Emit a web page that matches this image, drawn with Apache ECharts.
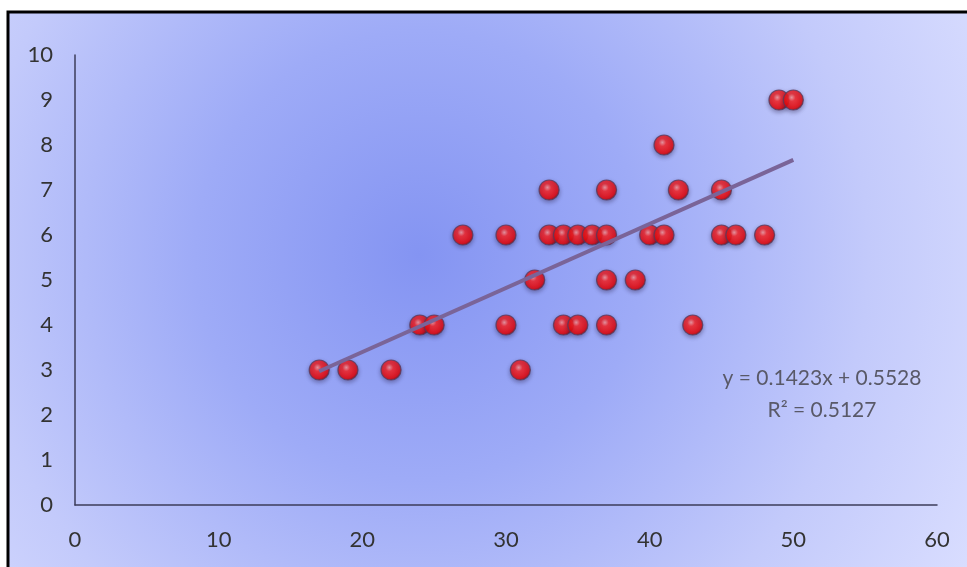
<!DOCTYPE html>
<html>
<head>
<meta charset="utf-8">
<script src="https://cdn.jsdelivr.net/npm/echarts@6/dist/echarts.min.js"></script>
<style>
html,body{margin:0;padding:0;background:#fff;}
#c{width:967px;height:567px;}
</style>
</head>
<body>
<div id="c"></div>
<script>
// Data (x, y)
const xValues = [17,19,22,31, 24,25,30,34,35,37,43, 32,37,39, 27,30,33,34,35,36,37,40,41,45,46,48, 33,37,42,45, 41, 49,50];
const yValues = [3,3,3,3, 4,4,4,4,4,4,4, 5,5,5, 6,6,6,6,6,6,6,6,6,6,6,6, 7,7,7,7, 8, 9,9];
const trendSlope = 0.1423;
const trendIntercept = 0.5528;
const rSquared = '0.5127';
const xTicks = [0,10,20,30,40,50,60];
const yTicks = [0,1,2,3,4,5,6,7,8,9,10];

const points = xValues.map((x, i) => [x, yValues[i]]);
const xMinData = Math.min(...xValues), xMaxData = Math.max(...xValues);
const trend = [[xMinData, trendSlope * xMinData + trendIntercept], [xMaxData, trendSlope * xMaxData + trendIntercept]];

const chart = echarts.init(document.getElementById('c'), null, {renderer: 'canvas'});
const font = 'Lato, "Open Sans", sans-serif';
const bgFill = {type: 'radial', x: 0.42, y: 0.42, r: 1.1, colorStops: [
  {offset: 0, color: '#8494f2'},
  {offset: 0.35, color: '#9eabf7'},
  {offset: 0.7, color: '#c3cafb'},
  {offset: 1, color: '#dadeff'}
]};
chart.setOption({
  animation: false,
  backgroundColor: '#ffffff',
  grid: {left: 75, right: 30, top: 55, bottom: 62, containLabel: false},
  xAxis: {
    type: 'value', min: xTicks[0], max: xTicks[xTicks.length-1], interval: 10,
    axisLine: {show: true, lineStyle: {color: '#3c3c5a', width: 1.5}},
    axisTick: {show: false},
    splitLine: {show: false},
    axisLabel: {color: '#333', fontSize: 22, fontFamily: font, margin: 24}
  },
  yAxis: {
    type: 'value', min: yTicks[0], max: yTicks[yTicks.length-1], interval: 1,
    axisLine: {show: true, lineStyle: {color: '#3c3c5a', width: 1.5}},
    axisTick: {show: false},
    splitLine: {show: false},
    axisLabel: {color: '#333', fontSize: 22, fontFamily: font, margin: 22}
  },
  series: [{
    type: 'scatter', data: points, symbol: 'circle', symbolSize: 20, z: 2,
    itemStyle: {
      color: {type: 'radial', x: 0.42, y: 0.38, r: 0.6, colorStops: [
        {offset: 0, color: '#ff9a9a'},
        {offset: 0.3, color: '#ff2222'},
        {offset: 0.85, color: '#f20000'},
        {offset: 1, color: '#a80000'}
      ]},
      borderColor: '#5a3a5a', borderWidth: 1.2,
      shadowBlur: 4, shadowColor: 'rgba(30,20,60,0.45)', shadowOffsetY: 2
    }
  }, {
    type: 'line', data: trend, symbol: 'none', z: 3,
    lineStyle: {color: '#7a6498', width: 4}
  }],
  graphic: [{
    type: 'rect', z: -10, silent: true,
    shape: {x: 8, y: 12, width: 980, height: 580},
    style: {fill: bgFill, stroke: '#000', lineWidth: 3}
  }, {
    type: 'text', x: 822, y: 378, z: 10,
    style: {text: 'y = ' + trendSlope + 'x + ' + trendIntercept, fill: '#595968', font: '21px ' + font, align: 'center', verticalAlign: 'middle'}
  }, {
    type: 'text', x: 822, y: 410, z: 10,
    style: {text: 'R² = ' + rSquared, fill: '#595968', font: '21px ' + font, align: 'center', verticalAlign: 'middle'}
  }]
});
</script>
</body>
</html>
